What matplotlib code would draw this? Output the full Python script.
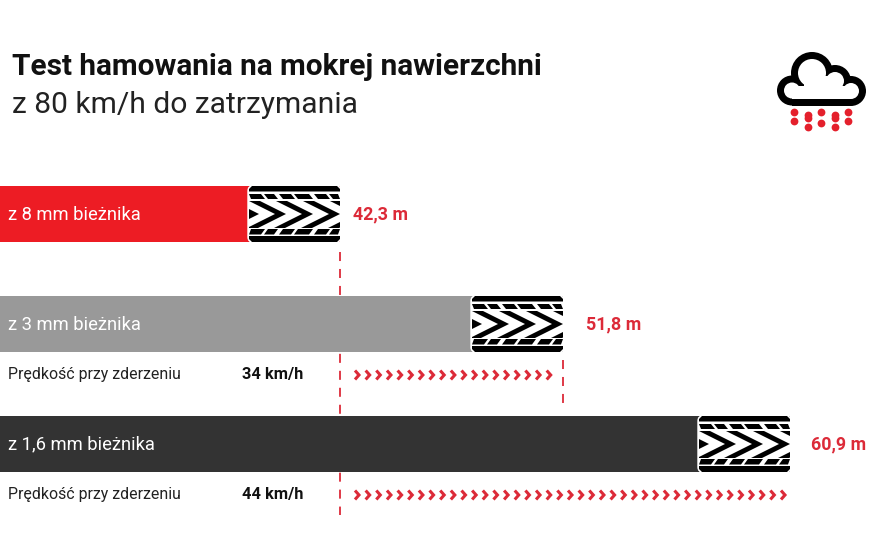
import numpy as np
import matplotlib
matplotlib.use("Agg")
import matplotlib.pyplot as plt
from matplotlib.patches import Circle, Polygon, Rectangle, FancyBboxPatch

# bar lengths, axis runs 0-880
bar_labels = ["z 8 mm bieżnika", "z 3 mm bieżnika", "z 1,6 mm bieżnika"]
bar_lengths = [340, 563, 790]
bar_colors = ["#ED1C24", "#999999", "#333333"]
distance_labels = ["42,3 m", "51,8 m", "60,9 m"]
speed_labels = ["34 km/h", "44 km/h"]
chevron_counts = [19, 41]

RED = "#DC2A38"
FONT = "Roboto"

fig = plt.figure(figsize=(8.8, 5.4), dpi=100)
ax = fig.add_axes([0, 0, 1, 1])
ax.set_xlim(0, 880)
ax.set_ylim(540, 0)
ax.axis("off")

bar_y = [214, 324, 444]
ax.barh(bar_y, bar_lengths, height=56, color=bar_colors, zorder=1)


def draw_tyre(x_end, y_mid):
    x0 = x_end - 91
    top = y_mid - 28
    ax.add_patch(FancyBboxPatch((x0 - 1, top), 93, 56, boxstyle="round,pad=0,rounding_size=5",
                                fc="white", ec="white", lw=1, zorder=2))
    # shoulders with cut corners
    ax.add_patch(Polygon([(x0 + 3, top), (x0 + 88, top), (x0 + 91, top + 3), (x0 + 91, top + 5.5),
                          (x0, top + 5.5), (x0, top + 3)], fc="black", ec="none", zorder=3))
    ax.add_patch(Polygon([(x0, top + 50), (x0 + 91, top + 50), (x0 + 91, top + 53), (x0 + 88, top + 56),
                          (x0 + 3, top + 56), (x0, top + 53)], fc="black", ec="none", zorder=3))
    # broken rows
    pieces = [(0, 14), (17, 27), (32, 44), (47, 62), (67, 79), (82, 91)]
    for a, b in pieces:
        ax.add_patch(Polygon([(x0 + max(a - 2, 0), top + 8), (x0 + b - 2, top + 8),
                              (x0 + min(b + 2, 91), top + 13), (x0 + a + 2, top + 13)],
                             fc="black", ec="none", zorder=3))
        ax.add_patch(Polygon([(x0 + a + 2, top + 43), (x0 + min(b + 2, 91), top + 43),
                              (x0 + b - 2, top + 48.5), (x0 + max(a - 2, 0), top + 48.5)],
                             fc="black", ec="none", zorder=3))
    # centre chevrons, clipped to the tread block
    clip = Rectangle((x0, top + 14.5), 91, 27, transform=ax.transData)
    for apex in [10, 37, 64, 91, 118]:
        p = Polygon([(x0 + apex, y_mid), (x0 + apex - 28, y_mid - 14), (x0 + apex - 39, y_mid - 14),
                     (x0 + apex - 11, y_mid), (x0 + apex - 39, y_mid + 14), (x0 + apex - 28, y_mid + 14)],
                    fc="black", ec="none", zorder=3)
        ax.add_patch(p)
        p.set_clip_path(clip)


for x_end, y_mid in zip(bar_lengths, bar_y):
    draw_tyre(x_end, y_mid)

for label, y in zip(bar_labels, bar_y):
    ax.text(8, y + 0.5, label, color="white", fontsize=13.2, family=FONT, va="center", zorder=4)
for label, x, y in zip(distance_labels, [353, 586, 811], bar_y):
    ax.text(x, y + 0.5, label, color=RED, fontsize=12.9, family=FONT, weight="bold", va="center")

# title
ax.text(12, 67, "Test hamowania na mokrej nawierzchni", fontsize=21.4, family=FONT, weight="bold",
        color="#111111", va="center")
ax.text(12, 105, "z 80 km/h do zatrzymania", fontsize=21.6, family=FONT, weight="normal",
        color="#222222", va="center")

# collision speed rows
for y, speed in zip([375, 495], speed_labels):
    ax.text(8, y, "Prędkość przy zderzeniu", fontsize=11.4, family=FONT, color="#222222", va="center")
    ax.text(242, y, speed, fontsize=11.8, family=FONT, weight="bold", color="#111111", va="center")

for y, n in zip([375, 495], chevron_counts):
    for i in range(n):
        x = 355 + i * 10.65
        ax.plot([x, x + 4, x], [y - 4.5, y, y + 4.5], color=RED, lw=2.2, solid_joinstyle="miter",
                solid_capstyle="butt", zorder=3)

# dashed stop lines
ax.plot([340, 340], [252, 515], color=RED, lw=1.3, dashes=(5, 4.4), zorder=0.5)
ax.plot([563, 563], [360, 403], color=RED, lw=1.3, dashes=(5, 4.4), zorder=0.5)

# cloud icon
parts = [(812, 73, 21), (835, 81, 16), (851, 91, 15), (792, 90.5, 15)]
for cx, cy, r in parts:
    ax.add_patch(Circle((cx, cy), r, fc="black", ec="none", zorder=2))
ax.add_patch(Rectangle((792, 85), 59, 20.5, fc="black", ec="none", zorder=2))
for cx, cy, r in parts:
    ax.add_patch(Circle((cx, cy), r - 7, fc="white", ec="none", zorder=3))
ax.add_patch(Rectangle((792, 86), 59, 12.5, fc="white", ec="none", zorder=3))
ax.add_patch(Rectangle((804, 76), 38, 14, fc="white", ec="none", zorder=3))

drop_x = [794, 808, 821, 835, 848]
drop_y = [[112, 121], [115, 118, 127], [112, 123], [115, 118, 127], [112, 121]]
for x, ys in zip(drop_x, drop_y):
    ax.plot([x] * len(ys), ys, "o", ms=5.6, color="#E4202C", mec="none", zorder=3)

fig.savefig("out.png", dpi=100)
